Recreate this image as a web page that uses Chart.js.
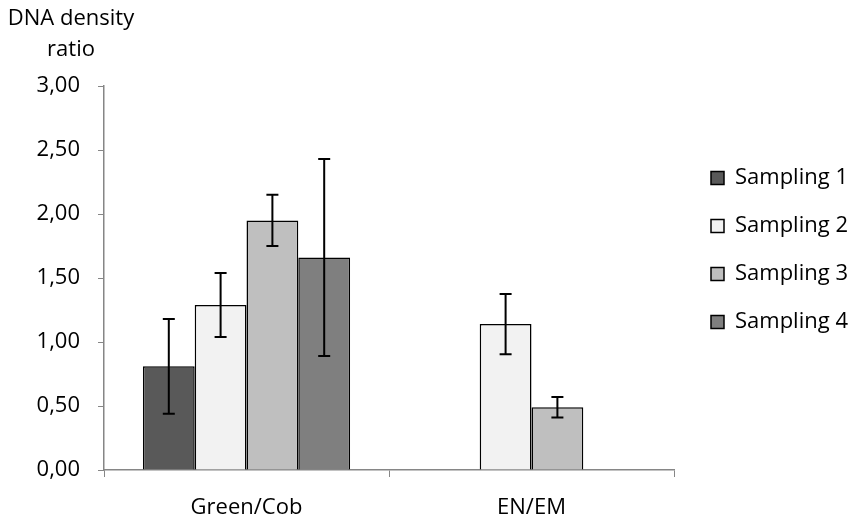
<!DOCTYPE html>
<html>
<head>
<meta charset="utf-8">
<script src="https://cdn.jsdelivr.net/npm/chart.js@4"></script>
<style>
  html, body { margin: 0; padding: 0; background: #fff; }
  #wrap { width: 851px; height: 522px; }
</style>
</head>
<body>
<div id="wrap"><canvas id="chart" width="851" height="522"></canvas></div>
<script>
// categories and series
const categories = ['Green/Cob', 'EN/EM'];
const seriesNames = ['Sampling 1', 'Sampling 2', 'Sampling 3', 'Sampling 4'];
const sampling1 = [0.81, null];
const sampling2 = [1.29, 1.14];
const sampling3 = [1.95, 0.49];
const sampling4 = [1.66, null];
// error bar half-widths (+/-)
const err1 = [0.37, null];
const err2 = [0.25, 0.235];
const err3 = [0.20, 0.08];
const err4 = [0.77, null];
const yTicks = [0, 0.5, 1, 1.5, 2, 2.5, 3];
const yTitle = ['DNA density', 'ratio'];

const colors = ['#595959', '#f2f2f2', '#bfbfbf', '#7f7f7f'];
const FONT = '"Open Sans", Lato, sans-serif';
const FSIZE = 22;

const values = [sampling1, sampling2, sampling3, sampling4];
const errors = [err1, err2, err3, err4];

// draws the +/- error bars from the scales
const errorBarPlugin = {
    id: 'errorBars',
    afterDatasetsDraw(chart) {
        const ctx = chart.ctx;
        const y = chart.scales.y;
        ctx.save();
        ctx.strokeStyle = '#000';
        ctx.lineWidth = 2;
        chart.data.datasets.forEach((ds, i) => {
            const meta = chart.getDatasetMeta(i);
            meta.data.forEach((bar, j) => {
                const v = ds.data[j];
                const e = errors[i][j];
                if (v == null || e == null) return;
                const top = y.getPixelForValue(v + e);
                const bot = y.getPixelForValue(v - e);
                const x = bar.x;
                const cap = 6;
                ctx.beginPath();
                ctx.moveTo(x, top); ctx.lineTo(x, bot);
                ctx.moveTo(x - cap, top); ctx.lineTo(x + cap, top);
                ctx.moveTo(x - cap, bot); ctx.lineTo(x + cap, bot);
                ctx.stroke();
            });
        });
        ctx.restore();
    }
};

// axis title above the y axis + legend placement
const extrasPlugin = {
    id: 'extras',
    beforeInit(chart) {
        const legend = chart.legend;
        const fit = legend.fit;
        legend.fit = function() {
            fit.call(this);
            this.width = 177;
        };
    },
    afterLayout(chart) {
        // push legend a bit right and up, like the original
        const lg = chart.legend;
        lg.left += 11; lg.right += 11;
        lg.top -= 54; lg.bottom -= 54;
    },
    afterDraw(chart) {
        const ctx = chart.ctx;
        ctx.save();
        ctx.font = FSIZE + 'px ' + FONT;
        ctx.fillStyle = '#000';
        ctx.textAlign = 'center';
        ctx.textBaseline = 'middle';
        const cx = chart.chartArea.left - 33;
        ctx.fillText(yTitle[0], cx, 19);
        ctx.fillText(yTitle[1], cx, 50);
        ctx.restore();
    }
};

new Chart(document.getElementById('chart'), {
    type: 'bar',
    data: {
        labels: categories,
        datasets: seriesNames.map((name, i) => ({
            label: name,
            data: values[i],
            backgroundColor: colors[i],
            borderColor: '#000',
            borderWidth: 1.5,
            categoryPercentage: 0.727,
            barPercentage: 1
        }))
    },
    options: {
        responsive: false,
        animation: false,
        layout: { padding: { top: 86, left: 0, right: 0, bottom: 0 } },
        plugins: {
            tooltip: { enabled: false },
            legend: {
                position: 'right',
                align: 'center',
                labels: {
                    font: { family: FONT, size: FSIZE },
                    color: '#000',
                    boxWidth: 13,
                    boxHeight: 13,
                    padding: 26
                }
            }
        },
        scales: {
            x: {
                afterFit(scale) { scale.height = 52; },
                grid: { drawOnChartArea: false, color: '#868686', tickLength: 7, offset: true },
                border: { color: '#868686', width: 1.5 },
                ticks: { font: { family: FONT, size: FSIZE }, color: '#000', padding: 18 }
            },
            y: {
                min: 0,
                max: 3,
                afterFit(scale) { scale.width = 104; },
                afterBuildTicks(scale) { scale.ticks = yTicks.map(v => ({ value: v })); },
                grid: { drawOnChartArea: false, color: '#868686', tickLength: 6 },
                border: { color: '#868686', width: 1.5 },
                ticks: {
                    font: { family: FONT, size: FSIZE },
                    color: '#000',
                    padding: 18,
                    callback: v => v.toFixed(2).replace('.', ',')
                }
            }
        }
    },
    plugins: [errorBarPlugin, extrasPlugin]
});
</script>
</body>
</html>
